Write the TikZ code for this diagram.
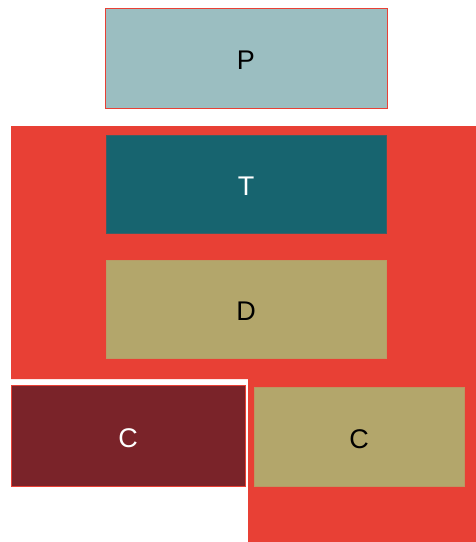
\documentclass[tikz,border=0pt]{standalone}
\usepackage{fontspec}
\setmainfont{Liberation Sans}
\definecolor{bandred}{HTML}{E84035}
\definecolor{paleteal}{HTML}{9BBEC1}
\definecolor{deepteal}{HTML}{17646F}
\definecolor{sand}{HTML}{B3A66B}
\definecolor{wine}{HTML}{7A2329}
\begin{document}
\begin{tikzpicture}[x=1pt,y=-1pt,
  block/.style={draw, line width=0.8pt, inner sep=0pt, text height=23pt, text depth=0pt,
    font=\fontsize{27}{30}\selectfont}]
\useasboundingbox (0,0) rectangle (476,542);
% red backdrop
\fill[bandred] (11,126) -- (476,126) -- (476,542) -- (248,542) -- (248,379) -- (11,379) -- cycle;
% boxes
\node[block, fill=paleteal, draw=bandred, minimum width=282pt, minimum height=100pt] (p) at (246,58) {P};
\node[block, fill=deepteal, draw=deepteal!80!bandred, text=white, minimum width=280pt, minimum height=98pt] (t) at (246,184) {T};
\node[block, fill=sand, draw=sand!90!bandred, minimum width=280pt, minimum height=98pt] (d) at (246,309) {D};
\node[block, fill=wine, draw=bandred, text=white, minimum width=234pt, minimum height=101pt] (c1) at (128,435.5) {C};
\node[block, fill=sand, draw=sand!85!bandred, minimum width=210pt, minimum height=99pt] (c2) at (359,436.5) {C};
\end{tikzpicture}
\end{document}
